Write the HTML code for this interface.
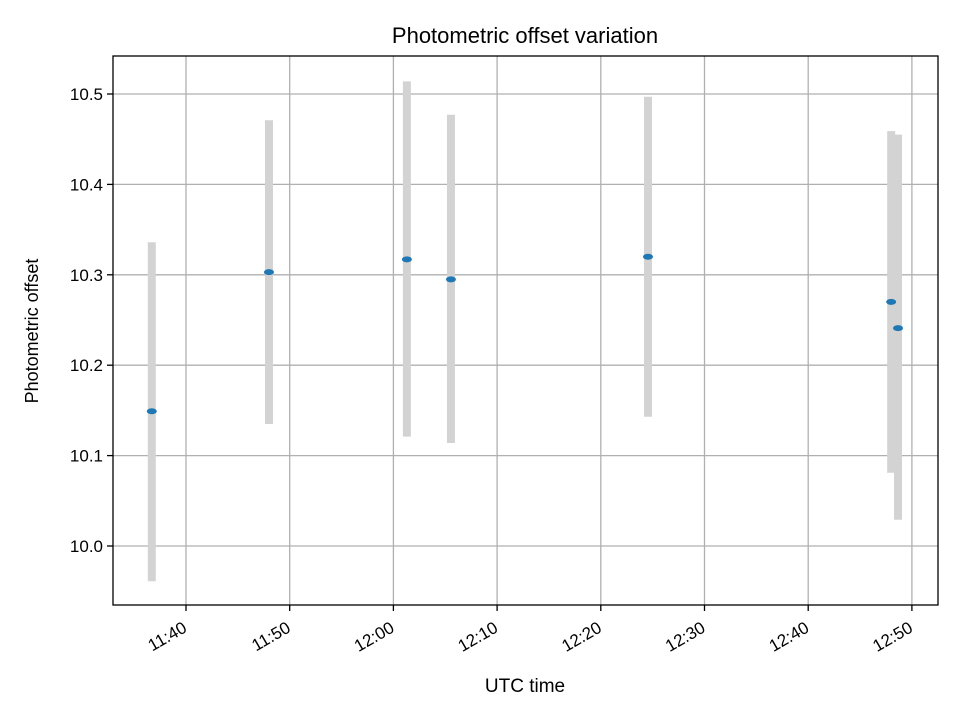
<!DOCTYPE html>
<html><head><meta charset="utf-8"><style>
body{margin:0;background:#fff;font-family:"Liberation Sans","DejaVu Sans",sans-serif}
</style></head><body>
<svg width="960" height="720" id="c" xmlns="http://www.w3.org/2000/svg" font-family="Liberation Sans, DejaVu Sans, sans-serif">
<rect width="960" height="720" fill="#fff"/>
<text x="525" y="43" text-anchor="middle" font-size="22">Photometric offset variation</text>
<text x="525" y="692" text-anchor="middle" font-size="19">UTC time</text>
<text transform="translate(38,331) rotate(-90)" text-anchor="middle" font-size="18">Photometric offset</text>
<g id="grid"></g><g id="marks"></g><g id="axes"></g>
<rect x="113" y="56" width="825" height="549" fill="none" stroke="#000" stroke-width="1.3"/>
</svg>
<script>
const times=["11:36.7","11:48.0","12:01.3","12:05.55","12:24.55","12:48.0","12:48.66"];
const offsets=[10.149,10.303,10.317,10.295,10.320,10.270,10.241];
const errLow=[9.961,10.135,10.121,10.114,10.143,10.081,10.029];
const errHigh=[10.336,10.471,10.514,10.477,10.497,10.459,10.455];
const xTicks=["11:40","11:50","12:00","12:10","12:20","12:30","12:40","12:50"];
const yTicks=[10.0,10.1,10.2,10.3,10.4,10.5];
const NS="http://www.w3.org/2000/svg";
function mins(s){const [h,m]=s.split(":");return (+h)*60+parseFloat(m);}
const X=t=>186+(mins(t)-mins("11:40"))*10.37;
const Y=v=>546-(v-10.0)*904;
function el(tag,attrs,parent){const e=document.createElementNS(NS,tag);for(const k in attrs)e.setAttribute(k,attrs[k]);document.getElementById(parent).appendChild(e);return e;}
xTicks.forEach(t=>{const x=X(t);
 const g=el("line",{x1:x,x2:x,y1:56,y2:605,stroke:"#b0b0b0","stroke-width":1.3},"grid");
 
 
 el("line",{x1:x,x2:x,y1:605,y2:611,stroke:"#000","stroke-width":1.3},"axes");
 const ax=x+2, ay=631;
 const tx=el("text",{x:ax,y:ay,"text-anchor":"end","font-size":17,transform:`rotate(-30 ${ax} ${ay})`},"axes");
 tx.textContent=t;
 
 
});
yTicks.forEach(v=>{const y=Y(v);
 const g=el("line",{x1:113,x2:938,y1:y,y2:y,stroke:"#b0b0b0","stroke-width":1.3},"grid");
 
 
 el("line",{x1:107,x2:113,y1:y,y2:y,stroke:"#000","stroke-width":1.3},"axes");
 const tx=el("text",{x:103,y:y+6,"text-anchor":"end","font-size":17},"axes");
 tx.textContent=v.toFixed(1);
 
 
});
times.forEach((t,i)=>{const x=X(t);
 const b=el("line",{x1:x,x2:x,y1:Y(errHigh[i]),y2:Y(errLow[i]),stroke:"#d3d3d3","stroke-width":8},"marks");
 
 
});
times.forEach((t,i)=>{
 const p=el("ellipse",{cx:X(t),cy:Y(offsets[i]),rx:5,ry:3,fill:"#1f77b4"},"marks");
 
 
});
</script>
</body></html>
